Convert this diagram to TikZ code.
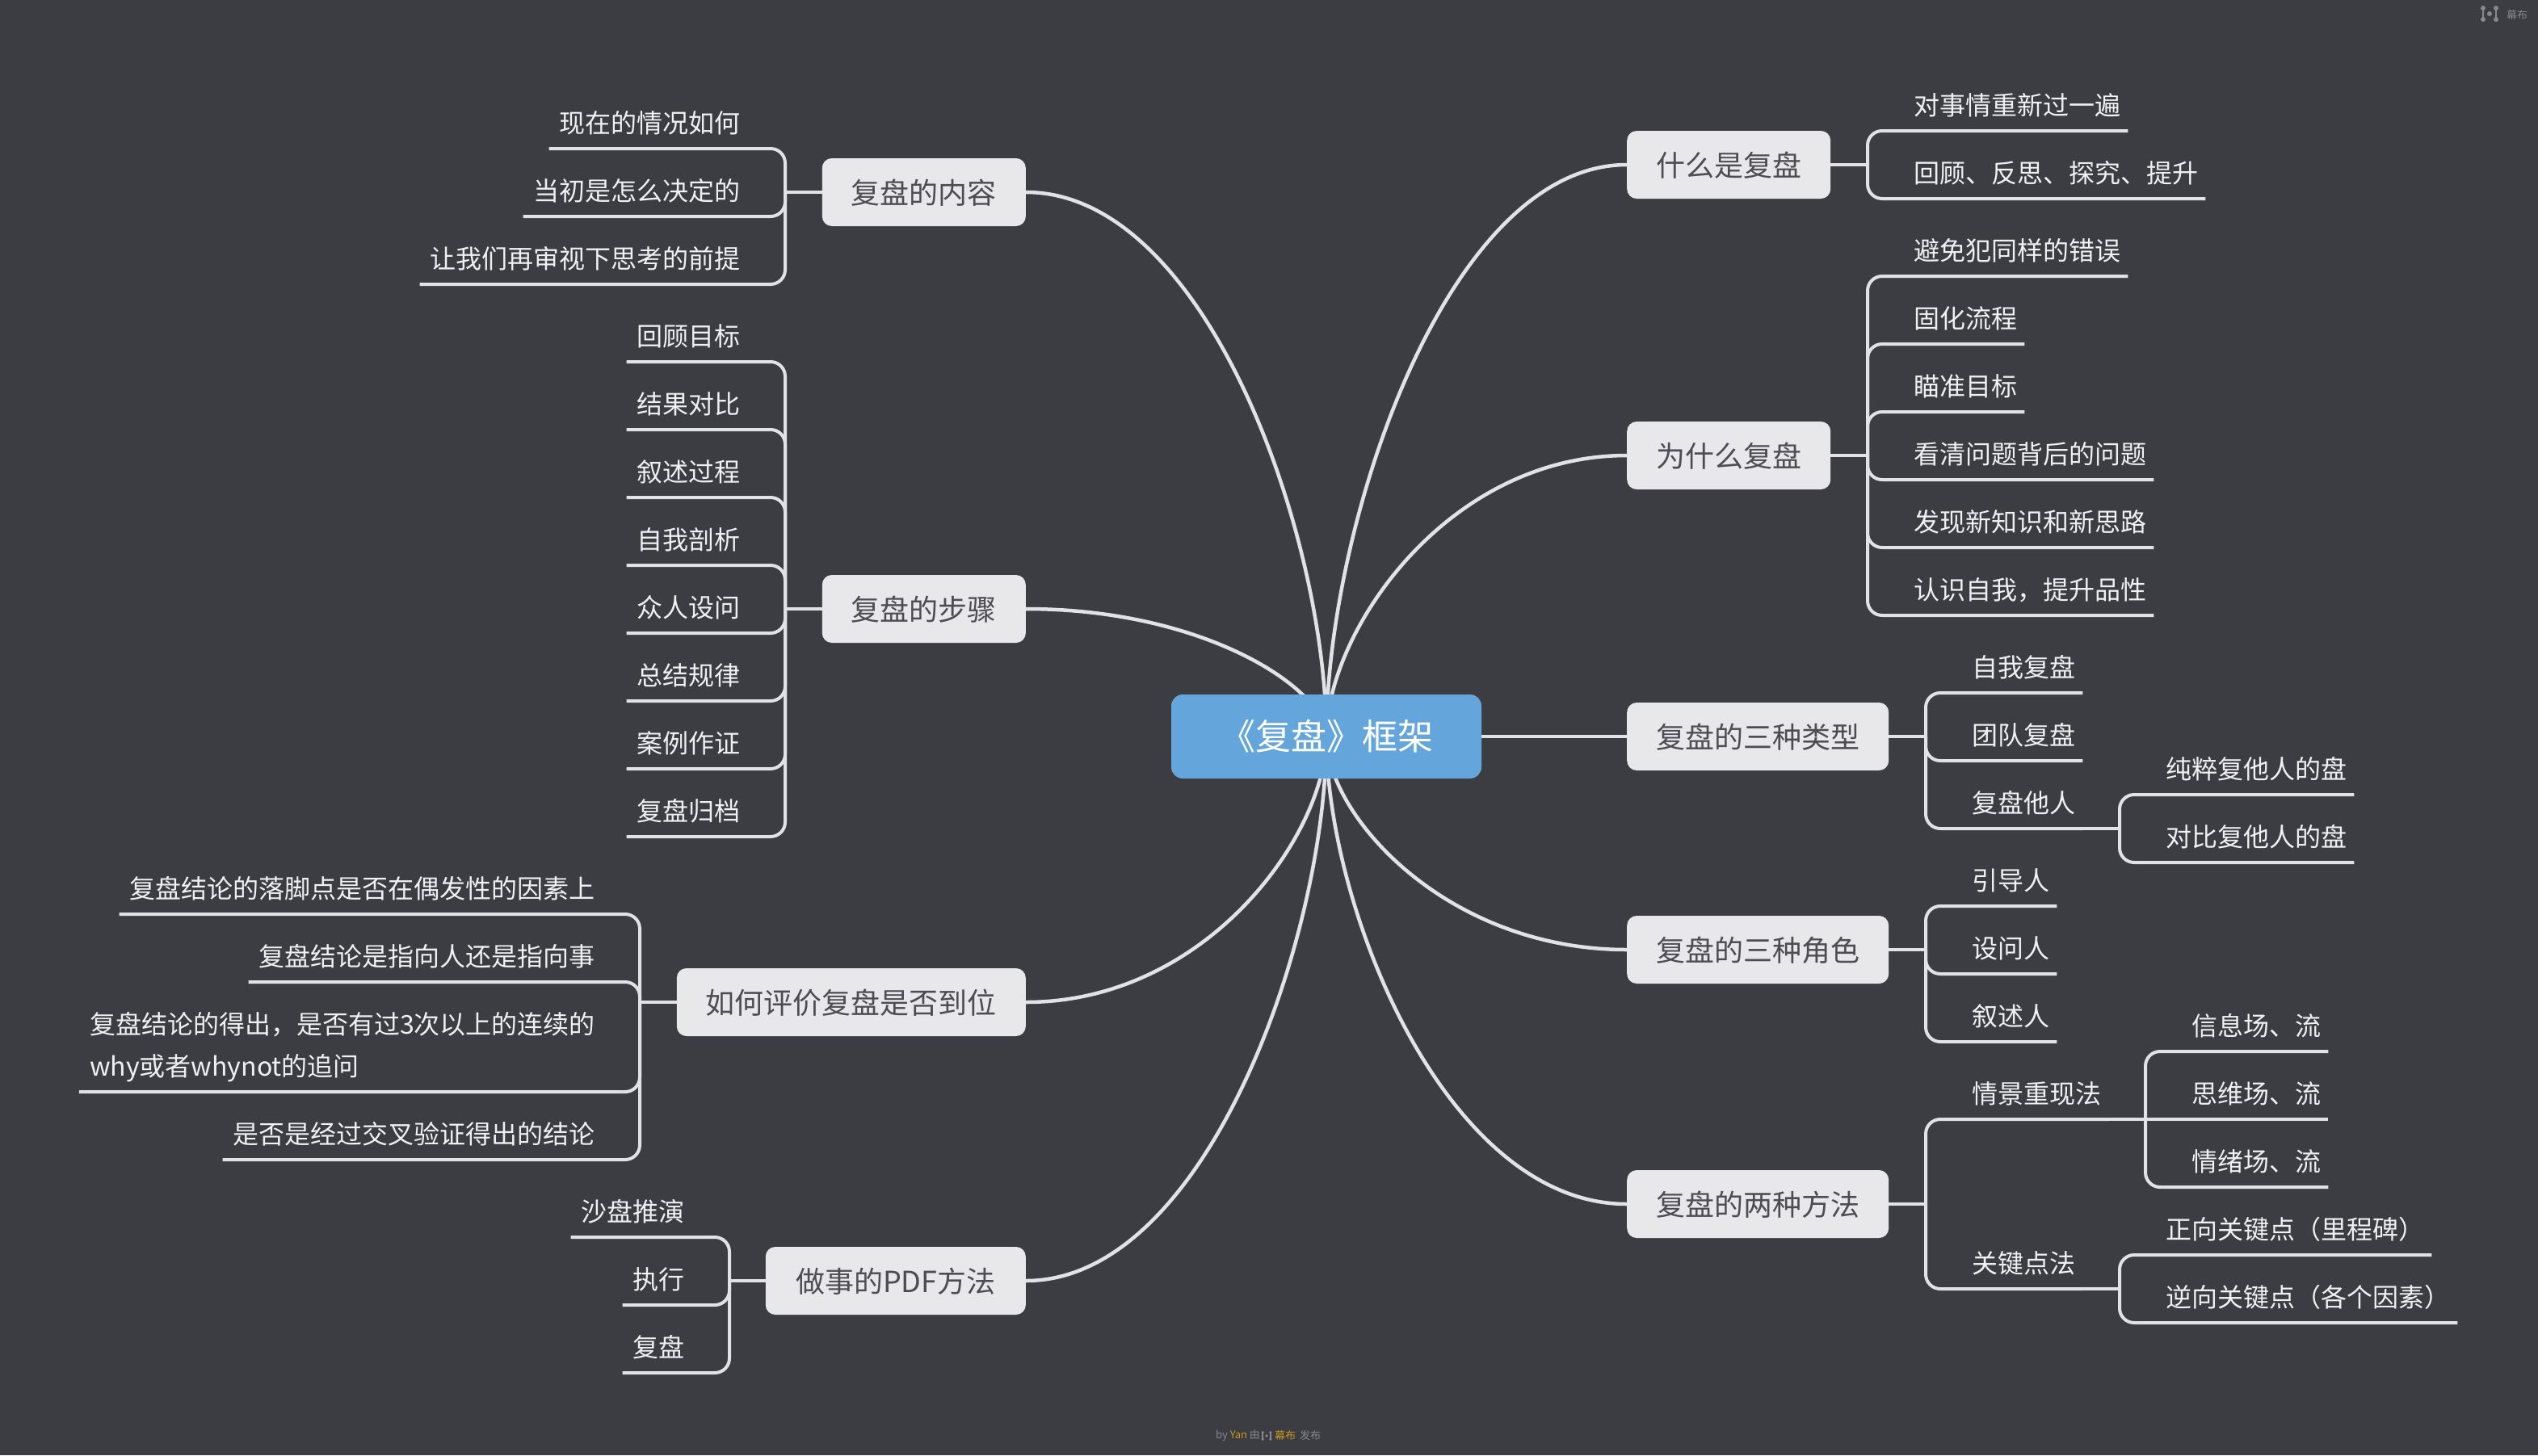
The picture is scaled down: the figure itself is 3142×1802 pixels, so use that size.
\documentclass[tikz,border=0pt]{standalone}
\usepackage{fontspec}
\setmainfont{Noto Sans CJK SC}
\definecolor{bgcol}{RGB}{60,61,66}
\definecolor{linecol}{RGB}{226,226,230}
\definecolor{boxcol}{RGB}{232,232,235}
\definecolor{boxtext}{RGB}{76,76,82}
\definecolor{leaftext}{RGB}{240,240,242}
\definecolor{rootcol}{RGB}{100,166,219}
\definecolor{logogray}{RGB}{135,136,140}
\definecolor{logogold}{RGB}{200,152,30}
\pgfdeclarelayer{back}
\pgfsetlayers{back,main}
\tikzset{
  x=1pt,y=-1pt,
  rootbox/.style={rectangle,rounded corners=14pt,fill=rootcol,text=white,inner sep=0pt,minimum width=384pt,minimum height=104pt,text height=38.7pt,text depth=5.3pt,font=\fontsize{44pt}{44pt}\selectfont},
  mainbox/.style={rectangle,rounded corners=12pt,fill=boxcol,text=boxtext,inner xsep=36pt,inner ysep=0pt,minimum height=84pt,text height=33.2pt,text depth=4.3pt,font=\fontsize{36pt}{36pt}\selectfont},
  leaf/.style={rectangle,text=leaftext,inner xsep=9pt,inner ysep=0pt,text height=26pt,text depth=19pt,font=\fontsize{32pt}{32pt}\selectfont,execute at begin node=\kern4pt},
  link/.style={draw=linecol,line width=4.5pt},
  branch/.style={draw=linecol,line width=4pt,rounded corners=18pt},
  tiny/.style={inner sep=0pt,anchor=west,font=\fontsize{13pt}{13pt}\selectfont},
  mubulogo/.pic={
    \fill (-8,-7) circle[radius=3] (-8,7) circle[radius=3] (8,-7) circle[radius=3] (8,7) circle[radius=3] (0,0) circle[radius=3];
    \draw[line width=2pt] (-8,-7)--(-8,7) (8,-7)--(8,7);
  }
}
% right-hand leaf: name, spine coordinate, x, underline y, text
\newcommand\leafR[5]{\node[leaf,anchor=south west] (#1) at (#3,#4) {#5};\draw[branch] (#2) |- (#1.south east);}
% left-hand leaf
\newcommand\leafL[5]{\node[leaf,anchor=south east] (#1) at (#3,#4) {#5};\draw[branch] (#2) |- (#1.south west);}
\begin{document}
\begin{tikzpicture}
\useasboundingbox (0,0) rectangle (3142,1802);
\begin{pgfonlayer}{back}
\fill[bgcol] (0,0) rectangle (3142,1802);
\end{pgfonlayer}

\node[rootbox] (root) at (1642,912) {《复盘》框架};

% right main topics
\node[mainbox,anchor=west] (what) at (2014,204) {什么是复盘};
\node[mainbox,anchor=west] (why) at (2014,564) {为什么复盘};
\node[mainbox,anchor=west] (types) at (2014,912) {复盘的三种类型};
\node[mainbox,anchor=west] (roles) at (2014,1176) {复盘的三种角色};
\node[mainbox,anchor=west] (methods) at (2014,1491) {复盘的两种方法};
% left main topics
\node[mainbox,anchor=east] (content) at (1270,238) {复盘的内容};
\node[mainbox,anchor=east] (steps) at (1270,754) {复盘的步骤};
\node[mainbox,anchor=east] (eval) at (1270,1241) {如何评价复盘是否到位};
\node[mainbox,anchor=east,minimum width=322pt] (pdf) at (1270,1586) {做事的PDF方法};

\begin{pgfonlayer}{back}
\draw[link] (root.center) .. controls (1642,650) and (1791,204) .. (what.west);
\draw[link] (root.center) .. controls (1642,783) and (1791,564) .. (why.west);
\draw[link] (root.center) -- (types.west);
\draw[link] (root.center) .. controls (1642,1010) and (1791,1176) .. (roles.west);
\draw[link] (root.center) .. controls (1642,1126) and (1791,1491) .. (methods.west);
\draw[link] (root.center) .. controls (1642,663) and (1493,238) .. (content.east);
\draw[link] (root.center) .. controls (1642,854) and (1493,754) .. (steps.east);
\draw[link] (root.center) .. controls (1642,1034) and (1493,1241) .. (eval.east);
\draw[link] (root.center) .. controls (1642,1161) and (1493,1586) .. (pdf.east);
\end{pgfonlayer}

% spine points
\coordinate (swhat) at (2312,204);
\coordinate (swhy) at (2312,564);
\coordinate (stypes) at (2384,912);
\coordinate (sroles) at (2384,1176);
\coordinate (smethods) at (2384,1491);
\coordinate (scontent) at (972,238);
\coordinate (ssteps) at (972,754);
\coordinate (seval) at (792,1241);
\coordinate (spdf) at (903,1586);
\draw[branch] (what.east) -- (swhat);
\draw[branch] (why.east) -- (swhy);
\draw[branch] (types.east) -- (stypes);
\draw[branch] (roles.east) -- (sroles);
\draw[branch] (methods.east) -- (smethods);
\draw[branch] (content.west) -- (scontent);
\draw[branch] (steps.west) -- (ssteps);
\draw[branch] (eval.west) -- (seval);
\draw[branch] (pdf.west) -- (spdf);

% what
\leafR{w1}{swhat}{2356}{162}{对事情重新过一遍}
\leafR{w2}{swhat}{2356}{246}{回顾、反思、探究、提升}
% why
\leafR{y1}{swhy}{2356}{342}{避免犯同样的错误}
\leafR{y2}{swhy}{2356}{426}{固化流程}
\leafR{y3}{swhy}{2356}{510}{瞄准目标}
\leafR{y4}{swhy}{2356}{594}{看清问题背后的问题}
\leafR{y5}{swhy}{2356}{678}{发现新知识和新思路}
\leafR{y6}{swhy}{2356}{762}{认识自我，提升品性}
% types
\leafR{t1}{stypes}{2428}{858}{自我复盘}
\leafR{t2}{stypes}{2428}{942}{团队复盘}
\leafR{t3}{stypes}{2428}{1026}{复盘他人}
\coordinate (st3) at (2624,1026);
\draw[branch] (t3.south east) -- (st3);
\leafR{t31}{st3}{2668}{984}{纯粹复他人的盘}
\leafR{t32}{st3}{2668}{1068}{对比复他人的盘}
% roles
\leafR{r1}{sroles}{2428}{1122}{引导人}
\leafR{r2}{sroles}{2428}{1206}{设问人}
\leafR{r3}{sroles}{2428}{1290}{叙述人}
% methods
\leafR{m1}{smethods}{2428}{1386}{情景重现法}
\coordinate (sm1) at (2656,1386);
\draw[branch] (m1.south east) -- (sm1);
\leafR{m11}{sm1}{2700}{1302}{信息场、流}
\node[leaf,anchor=south west] (m12) at (2700,1386) {思维场、流};
\draw[branch] (sm1) -- (m12.south east);
\leafR{m13}{sm1}{2700}{1470}{情绪场、流}
\leafR{m2}{smethods}{2428}{1596}{关键点法}
\coordinate (sm2) at (2624,1596);
\draw[branch] (m2.south east) -- (sm2);
\leafR{m21}{sm2}{2668}{1554}{正向关键点（里程碑）}
\leafR{m22}{sm2}{2668}{1638}{逆向关键点（各个因素）}
% content
\leafL{c1}{scontent}{926}{184}{现在的情况如何}
\leafL{c2}{scontent}{926}{268}{当初是怎么决定的}
\leafL{c3}{scontent}{926}{352}{让我们再审视下思考的前提}
% steps
\leafL{s1}{ssteps}{926}{448}{回顾目标}
\leafL{s2}{ssteps}{926}{532}{结果对比}
\leafL{s3}{ssteps}{926}{616}{叙述过程}
\leafL{s4}{ssteps}{926}{700}{自我剖析}
\leafL{s5}{ssteps}{926}{784}{众人设问}
\leafL{s6}{ssteps}{926}{868}{总结规律}
\leafL{s7}{ssteps}{926}{952}{案例作证}
\leafL{s8}{ssteps}{926}{1036}{复盘归档}
% eval
\leafL{e1}{seval}{746}{1132}{复盘结论的落脚点是否在偶发性的因素上}
\leafL{e2}{seval}{746}{1216}{复盘结论是指向人还是指向事}
\leafL{e3}{seval}{746}{1352}{\vbox{\baselineskip=52pt\lineskiplimit=-100pt\hbox{复盘结论的得出，是否有过3次以上的连续的}\hbox{why或者whynot的追问}}}
\leafL{e4}{seval}{746}{1436}{是否是经过交叉验证得出的结论}
% pdf
\leafL{p1}{spdf}{857}{1532}{沙盘推演}
\leafL{p2}{spdf}{857}{1616}{执行}
\leafL{p3}{spdf}{857}{1700}{复盘}

% watermarks
\pic[color=logogray] at (3082,17) {mubulogo};
\node[tiny,text=logogray] (wm) at (3103,19) {幕布};
\node[tiny,text=logogray] (by) at (1505,1778) {by \textcolor{logogold}{Yan} 由};
\pic[color=logogray,scale=.6] at (1568,1778) {mubulogo};
\node[tiny,text=logogold] (mb) at (1578,1778) {幕布};
\node[tiny,text=logogray] (fb) at (1609,1778) {发布};
\end{tikzpicture}
\end{document}
